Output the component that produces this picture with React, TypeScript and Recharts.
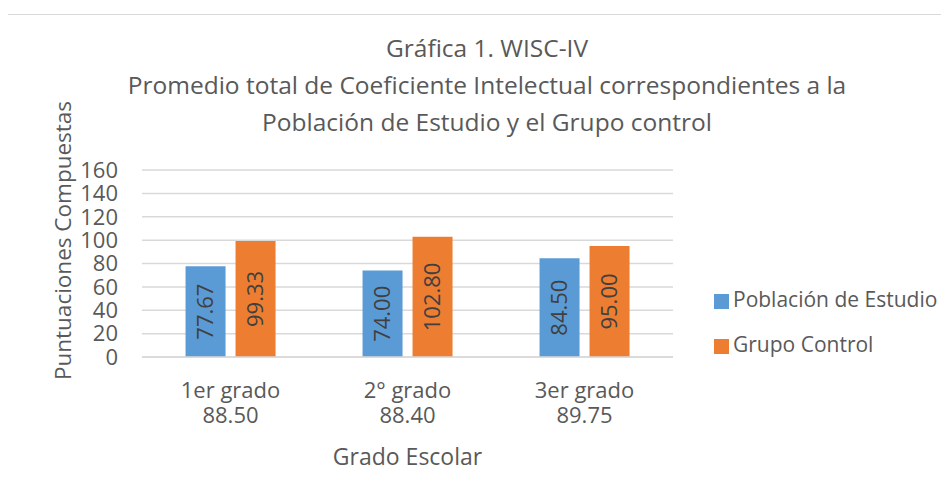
import { BarChart, Bar, XAxis, YAxis, CartesianGrid, Legend, LabelList } from 'recharts';

const FONT = '"Open Sans", "Noto Sans", sans-serif';
const TEXT = '#595959';
const COLORS = ['#5B9BD5', '#ED7D31'];

const categories = ['1er grado', '2° grado', '3er grado'];
const averages = [88.5, 88.4, 89.75];
const poblacion = [77.67, 74.0, 84.5];
const control = [99.33, 102.8, 95.0];
const yTicks = [0, 20, 40, 60, 80, 100, 120, 140, 160];
const titleLines = [
  'Gráfica 1. WISC-IV',
  'Promedio total de Coeficiente Intelectual correspondientes a la',
  'Población de Estudio y el Grupo control',
];
const seriesOrder = ['poblacion', 'control'];

const data = categories.map((name, i) => ({
  name,
  avg: averages[i],
  poblacion: poblacion[i],
  control: control[i],
}));

const GradeTick = (props: any) => {
  const { x, y, payload, index } = props;
  return (
    <text x={x} y={y} textAnchor="middle" fill={TEXT} fontSize={22} fontFamily={FONT}>
      <tspan x={x} dy={39}>{payload.value}</tspan>
      <tspan x={x} dy={25}>{averages[index].toFixed(2)}</tspan>
    </text>
  );
};

const YTitle = (props: any) => {
  const vb = props.viewBox || { x: 0, y: 0, height: 0 };
  const cx = vb.x + 62;
  const cy = vb.y + vb.height / 2 - 23;
  return (
    <text
      x={cx}
      y={cy}
      transform={`rotate(-90 ${cx} ${cy})`}
      textAnchor="middle"
      dominantBaseline="central"
      fill={TEXT}
      fontSize={22.5}
      fontFamily={FONT}
    >
      Puntuaciones Compuestas
    </text>
  );
};

export default function App() {
  return (
    <div style={{ position: 'relative', width: 949, height: 498, margin: -8, overflow: 'hidden', background: '#fff' }}>
      <div
        style={{
          position: 'absolute',
          left: 5,
          top: 14,
          width: 1000,
          height: 600,
          border: '1px solid #d9d9d9',
        }}
      />
      <div
        style={{
          position: 'absolute',
          left: 0,
          top: 29,
          width: 974,
          textAlign: 'center',
          fontFamily: FONT,
          fontSize: 24.5,
          lineHeight: '37px',
          color: TEXT,
        }}
      >
        {titleLines.map((t) => (
          <div key={t}>{t}</div>
        ))}
      </div>
      <div style={{ position: 'absolute', left: 0, top: 0 }}>
        <BarChart
          width={949}
          height={498}
          data={data}
          margin={{ top: 170, right: 276, bottom: 0, left: 0 }}
          barGap={10}
          barCategoryGap="24.6%"
        >
          <CartesianGrid vertical={false} stroke="#d9d9d9" strokeWidth={1.5} />
          <XAxis
            dataKey="name"
            height={141}
            axisLine={{ stroke: '#d9d9d9', strokeWidth: 1.5 }}
            tickLine={false}
            tickSize={0}
            tick={<GradeTick />}
            interval={0}
            label={{
              value: 'Grado Escolar',
              position: 'insideBottom',
              offset: 33,
              fill: TEXT,
              fontSize: 23,
              fontFamily: FONT,
            }}
          />
          <YAxis
            width={142}
            domain={[0, 160]}
            ticks={yTicks}
            interval={0}
            axisLine={false}
            tickLine={false}
            tickSize={0}
            tickMargin={24}
            tick={{ fill: TEXT, fontSize: 22, fontFamily: FONT }}
            label={<YTitle />}
          />
          <Legend
            layout="vertical"
            align="center"
            verticalAlign="middle"
            iconType="square"
            iconSize={15}
            itemSorter={(item: any) => seriesOrder.indexOf(item.dataKey)}
            wrapperStyle={{
              left: 714,
              top: 277,
              width: 'auto',
              fontFamily: FONT,
              fontSize: 21,
              lineHeight: '45px',
            }}
            formatter={(value: string) => <span style={{ color: TEXT }}>{value}</span>}
          />
          <Bar dataKey="poblacion" name="Población de Estudio" fill={COLORS[0]} isAnimationActive={false}>
            <LabelList
              dataKey="poblacion"
              position="center"
              angle={-90}
              fill="#404040"
              fontSize={22}
              fontFamily={FONT}
              formatter={(v: any) => Number(v).toFixed(2)}
            />
          </Bar>
          <Bar dataKey="control" name="Grupo Control" fill={COLORS[1]} isAnimationActive={false}>
            <LabelList
              dataKey="control"
              position="center"
              angle={-90}
              fill="#404040"
              fontSize={22}
              fontFamily={FONT}
              formatter={(v: any) => Number(v).toFixed(2)}
            />
          </Bar>
        </BarChart>
      </div>
    </div>
  );
}
